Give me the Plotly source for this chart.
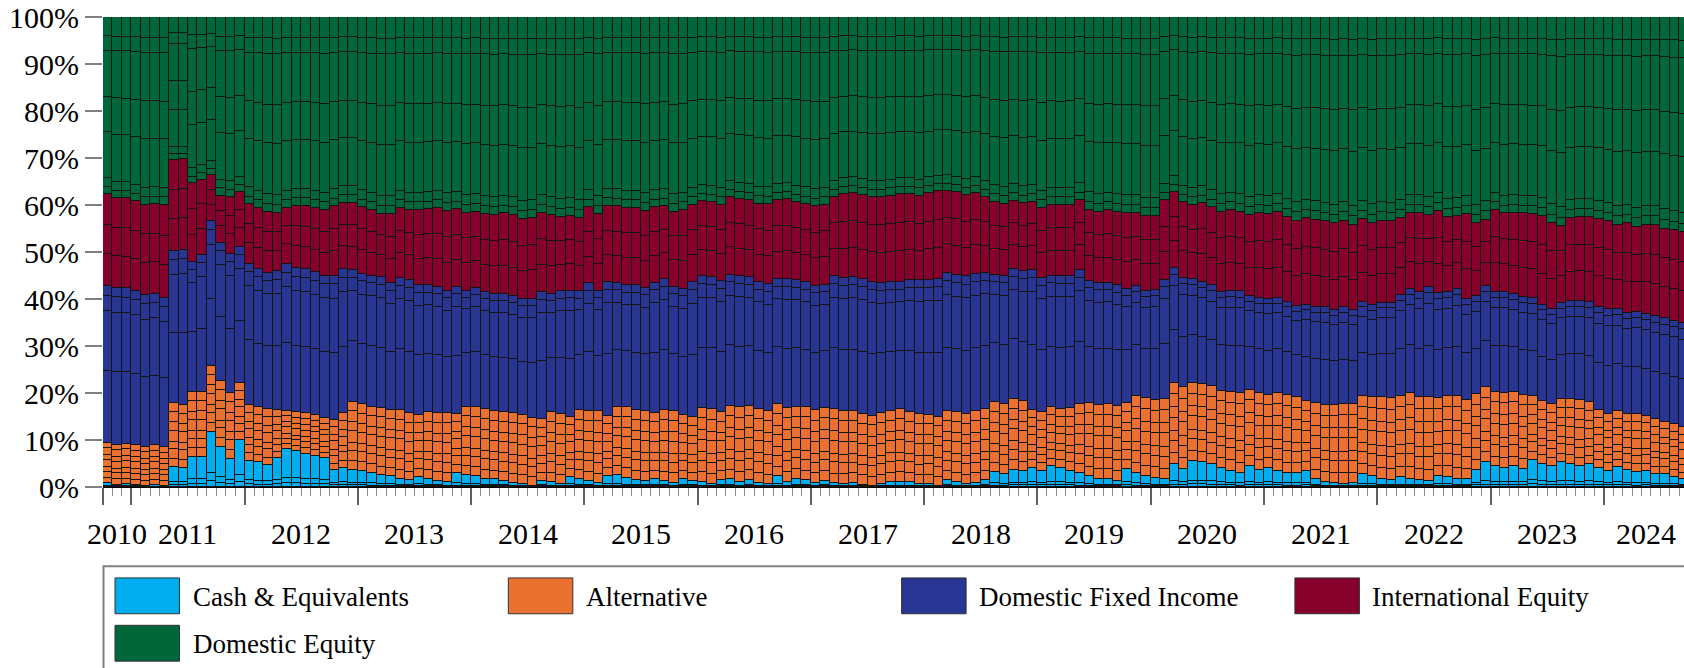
import plotly.graph_objects as go

# ---------------- data (percent of total, one value per month, Oct 2010 .. Sep 2024) ----------------
year_labels = ["2010", "2011", "2012", "2013", "2014", "2015", "2016", "2017",
               "2018", "2019", "2020", "2021", "2022", "2023", "2024"]
months_in_year = [3, 12, 12, 12, 12, 12, 12, 12, 12, 12, 12, 12, 12, 12, 9]

cash = [
    0.9, 0.5, 0.7, 0.5, 0.3, 0.4, 0.2, 4.2, 4.1, 6.4, 6.4, 11.8, 8.5, 6.0, 10.1, 5.6, 5.3, 4.7, 6.1, 8.0,
    7.6, 7.1, 6.7, 6.1, 3.6, 4.1, 3.7, 3.4, 3.0, 2.5,
    2.3, 1.8, 1.4, 2.2, 1.8, 1.3, 1.1, 3.0, 2.5, 2.3, 1.8, 1.6, 1.3, 0.9, 0.6, 0.2, 1.3, 1.1, 0.6, 2.2,
    1.6, 1.3, 0.8, 2.3, 2.5, 2.0, 1.5, 1.3, 1.6, 1.3, 0.9, 1.6, 1.3, 1.1, 0.6, 1.5,
    1.6, 1.1, 1.5, 0.9, 0.6, 2.3, 1.1, 1.8, 1.4, 0.9, 1.3, 0.8, 0.7, 0.9, 0.5, 0.2, 0.6, 1.1, 1.1, 1.1,
    0.6, 0.7, 0.2, 1.5, 1.1, 0.7, 0.9, 1.5, 3.2, 2.7, 3.7, 3.4, 4.1, 3.4, 4.4, 4.1,
    3.5, 3.0, 2.3, 1.8, 1.8, 1.3, 3.9, 3.0, 2.3, 2.0, 1.6, 5.0, 3.9, 5.5, 5.4, 4.8, 4.1, 3.5, 3.0, 4.4,
    3.7, 4.1, 3.5, 3.0, 3.0, 3.4, 1.6, 1.1, 0.9, 0.7, 0.9, 2.7, 2.3, 1.8, 1.5, 2.1,
    1.8, 1.5, 1.3, 2.3, 2.2, 1.8, 1.6, 3.7, 5.3, 4.4, 4.0, 4.4, 3.9, 5.7, 5.0, 4.4, 5.3, 5.0, 4.4, 4.8,
    4.1, 3.5, 4.2, 3.6, 3.2, 3.4, 2.8, 2.8, 2.2, 1.6,
]
alternative = [
    8.5, 8.5, 8.5, 8.4, 8.2, 8.5, 8.3, 13.7, 13.4, 13.8, 13.9, 14.0, 14.1, 14.0, 12.0, 11.9, 11.7, 11.9, 10.2, 8.2,
    8.3, 8.6, 8.6, 8.6, 10.7, 11.6, 14.4, 14.2, 14.1, 14.3,
    14.1, 14.6, 14.3, 13.2, 14.1, 14.4, 14.6, 12.5, 14.6, 14.7, 14.8, 14.5, 14.6, 14.8, 14.8, 14.5, 13.2, 14.8, 14.9, 12.8,
    14.8, 14.8, 15.3, 12.9, 14.5, 15.0, 14.9, 14.8, 14.1, 15.0, 15.3, 13.8, 13.7, 15.7, 16.0, 14.4,
    15.7, 15.9, 15.8, 15.7, 15.6, 15.3, 15.7, 15.3, 15.6, 15.4, 15.5, 15.8, 15.4, 15.2, 15.1, 15.0, 15.1, 15.1, 15.5, 14.8,
    14.9, 14.7, 14.8, 14.7, 14.8, 14.8, 15.2, 15.1, 14.9, 15.0, 15.0, 14.8, 12.3, 12.5, 12.6, 12.5,
    13.3, 14.6, 15.6, 15.7, 15.8, 16.0, 14.0, 16.4, 16.6, 16.6, 17.2, 17.1, 17.3, 16.7, 16.5, 16.6, 16.4, 16.8, 17.0, 16.3,
    16.3, 15.5, 16.5, 16.6, 16.1, 14.9, 16.3, 16.4, 16.6, 16.9, 16.7, 16.7, 16.8, 17.3, 17.4, 17.3,
    18.3, 17.6, 17.8, 16.6, 17.2, 17.6, 17.0, 16.1, 15.9, 15.9, 16.1, 15.9, 15.7, 13.6, 13.3, 13.3, 13.5, 13.8, 14.2, 13.3,
    12.2, 12.0, 11.9, 12.0, 12.4, 11.8, 11.7, 11.0, 11.1, 11.1,
]
domestic_fixed_income = [
    33.3, 33.4, 33.1, 32.9, 32.3, 32.2, 31.8, 32.4, 33.0, 27.6, 29.1, 30.7, 29.3, 29.6, 28.9, 30.0, 29.4, 29.0, 29.6, 31.3,
    30.7, 30.7, 30.4, 30.3, 30.7, 30.7, 28.0, 27.8, 27.9, 27.9,
    26.9, 28.1, 28.4, 27.5, 27.1, 26.9, 26.0, 27.1, 24.7, 25.4, 24.8, 25.0, 25.2, 24.9, 24.5, 25.4, 26.9, 25.2, 26.1, 26.8,
    25.2, 27.3, 25.6, 28.4, 26.4, 25.9, 26.5, 26.3, 27.8, 28.0, 26.4, 26.8, 28.6, 28.0, 28.1, 27.9,
    27.9, 27.9, 27.4, 27.0, 26.9, 26.6, 27.4, 26.9, 26.6, 26.5, 26.2, 28.2, 28.4, 28.6, 28.7, 28.4, 27.7, 27.4, 27.0, 28.2,
    28.5, 28.7, 29.3, 29.3, 29.3, 29.3, 29.3, 29.0, 27.1, 27.3, 27.7, 27.7, 29.8, 28.6, 28.0, 28.3,
    28.1, 28.6, 25.9, 25.9, 25.8, 25.6, 24.3, 23.4, 22.9, 23.4, 25.3, 24.5, 23.3, 22.0, 21.7, 21.5, 20.9, 21.3, 21.6, 19.9,
    20.2, 20.5, 20.2, 19.8, 19.4, 20.5, 20.4, 20.7, 20.1, 20.6, 20.0, 20.0, 19.6, 20.1, 20.3, 21.5,
    22.1, 22.3, 23.5, 22.4, 22.1, 22.8, 21.5, 20.8, 21.5, 21.2, 21.4, 20.7, 20.8, 20.9, 20.5, 20.1, 20.4, 20.8, 21.0, 21.3,
    22.0, 22.3, 21.7, 21.4, 21.7, 21.7, 21.8, 22.1, 22.1, 22.2,
]
international_equity = [
    19.6, 19.1, 19.1, 19.0, 19.3, 19.1, 19.7, 19.3, 19.2, 16.8, 16.0, 9.9, 10.1, 12.0, 11.7, 12.7, 13.0, 13.0, 12.5, 11.9,
    13.2, 13.4, 13.7, 13.9, 14.7, 14.1, 14.4, 14.1, 13.9, 13.4,
    14.8, 14.9, 14.8, 16.0, 16.1, 16.8, 17.1, 16.5, 16.6, 16.2, 16.7, 16.8, 17.1, 17.3, 17.1, 17.1, 16.9, 16.8, 15.9, 15.9,
    15.6, 16.1, 16.4, 16.2, 16.3, 16.5, 16.5, 16.4, 16.0, 15.4, 16.0, 16.7, 16.5, 16.0, 15.9, 16.3,
    16.5, 16.4, 16.3, 16.7, 17.1, 16.8, 17.0, 16.6, 16.6, 16.9, 17.0, 16.9, 17.8, 17.8, 17.8, 18.1, 18.3, 18.4, 18.7, 18.2,
    18.0, 18.4, 18.6, 17.5, 17.5, 17.3, 17.1, 16.0, 15.5, 15.3, 14.5, 14.5, 14.5, 14.9, 15.1, 15.1,
    15.2, 14.9, 15.2, 15.2, 15.5, 15.7, 16.1, 15.5, 15.9, 15.7, 16.9, 16.2, 16.1, 15.8, 16.8, 16.6, 17.2, 17.3, 17.0, 17.3,
    18.1, 18.0, 18.4, 18.1, 18.2, 18.4, 18.6, 18.3, 18.5, 18.5, 18.2, 17.6, 17.5, 17.5, 17.3, 16.3,
    16.2, 17.0, 15.3, 17.5, 15.9, 15.4, 18.0, 15.5, 14.2, 17.4, 16.7, 17.4, 17.8, 17.9, 18.9, 18.4, 16.3, 17.6, 17.9, 18.1,
    18.7, 18.7, 18.0, 19.1, 18.1, 18.9, 19.5, 19.1, 19.2, 19.3,
]
domestic_equity = [
    37.7, 38.5, 38.6, 39.2, 39.9, 39.8, 40.0, 30.4, 30.3, 35.4, 34.6, 33.6, 38.0, 38.4, 37.3, 39.8, 40.6, 41.4, 41.6, 40.6,
    40.2, 40.2, 40.6, 41.1, 40.3, 39.5, 39.5, 40.5, 41.1, 41.9,
    41.9, 40.6, 41.1, 41.1, 40.9, 40.6, 41.2, 40.9, 41.6, 41.4, 41.9, 42.1, 41.8, 42.1, 43.0, 42.8, 41.7, 42.1, 42.5, 42.3,
    42.8, 40.5, 41.9, 40.2, 40.3, 40.6, 40.6, 41.2, 40.5, 40.3, 41.4, 41.1, 39.9, 39.2, 39.4, 39.9,
    38.3, 38.7, 39.0, 39.7, 39.8, 39.0, 38.8, 39.4, 39.8, 40.3, 40.0, 38.3, 37.7, 37.5, 37.9, 38.3, 38.3, 38.0, 37.7, 37.7,
    38.0, 37.5, 37.1, 37.0, 37.3, 37.9, 37.5, 38.4, 39.3, 39.7, 39.1, 39.6, 39.3, 40.6, 39.9, 40.0,
    39.9, 38.9, 41.0, 41.4, 41.1, 41.4, 41.7, 41.7, 42.3, 42.3, 39.0, 37.2, 39.4, 40.0, 39.6, 40.5, 41.4, 41.1, 41.4, 42.1,
    41.7, 41.9, 41.4, 42.5, 43.3, 42.8, 43.1, 43.5, 43.9, 43.3, 44.2, 43.0, 43.8, 43.3, 43.5, 42.8,
    41.6, 41.6, 42.1, 41.2, 42.6, 42.4, 41.9, 43.9, 43.1, 41.1, 41.8, 41.6, 41.8, 41.9, 42.3, 43.8, 44.5, 42.8, 42.5, 42.5,
    43.0, 43.5, 44.2, 43.9, 44.6, 44.2, 44.2, 45.0, 45.4, 45.8,
]

# each asset class is made of several holdings (stacked inside the class); approximate shares
cash_holdings = [0.10, 0.15, 0.75]
alternative_holdings = [0.13, 0.15, 0.12, 0.17, 0.13, 0.16, 0.14]
dfi_holdings = [0.46, 0.38, 0.10, 0.06]
intl_holdings = [0.35, 0.32, 0.33]
deq_holdings = [0.04, 0.05, 0.26, 0.20, 0.26, 0.08, 0.11]

category_names = ["Cash & Equivalents", "Alternative", "Domestic Fixed Income",
                  "International Equity", "Domestic Equity"]
category_colors = ["#00AEEF", "#EA7130", "#283593", "#85002A", "#00673A"]

# ---------------- figure ----------------
W, H = 1684, 668
ML, MR, MT, MB = 103, 0, 15, 181
PW, PH = W - ML - MR, H - MT - MB

def px_x(p):
    return (p - ML) / PW

def px_y(p):
    return (H - MB - p) / PH

series = [cash, alternative, domestic_fixed_income, international_equity, domestic_equity]
holdings = [cash_holdings, alternative_holdings, dfi_holdings, intl_holdings, deq_holdings]
n = len(cash)
xs = list(range(n))

fig = go.Figure()
for name, color, vals, shares in zip(category_names, category_colors, series, holdings):
    for s in shares:
        fig.add_trace(go.Bar(
            x=xs, y=[v * s for v in vals], name=name, showlegend=False,
            marker=dict(color=color, line=dict(color="#141414", width=1)),
            width=1.0,
        ))

# year boundaries and centers (in bar index units)
bounds = [-0.5]
for m in months_in_year:
    bounds.append(bounds[-1] + m)
centers = [(bounds[i] + bounds[i + 1]) / 2 for i in range(len(months_in_year))]
major_ticks = bounds[:-1]

font_family = "Liberation Serif"
annotations = []
for lab, c in zip(year_labels, centers):
    annotations.append(dict(x=c, xref="x", y=px_y(534), yref="paper", text=lab,
                            showarrow=False, xanchor="center", yanchor="middle",
                            font=dict(family=font_family, size=30, color="black")))

shapes = []
# legend frame
shapes.append(dict(type="rect", xref="paper", yref="paper",
                   x0=px_x(103.5), x1=px_x(1720), y0=px_y(720), y1=px_y(566.7),
                   line=dict(color="#808080", width=2), fillcolor="rgba(0,0,0,0)", layer="above"))
col_w = 393.3
row_h = 47.6
for i, (name, color) in enumerate(zip(category_names, category_colors)):
    r, c = divmod(i, 4)
    x0 = 115 + c * col_w
    y0 = 578.3 + r * row_h
    shapes.append(dict(type="rect", xref="paper", yref="paper",
                       x0=px_x(x0), x1=px_x(x0 + 64.5), y0=px_y(y0 + 36), y1=px_y(y0),
                       line=dict(color="#333333", width=1), fillcolor=color, layer="above"))
    annotations.append(dict(x=px_x(x0 + 75.5), xref="paper", y=px_y(y0 + 19), yref="paper",
                            text=name, showarrow=False, xanchor="left", yanchor="middle",
                            font=dict(family=font_family, size=27, color="black")))

fig.update_layout(
    width=W, height=H,
    margin=dict(l=ML, r=MR, t=MT, b=MB, pad=0),
    barmode="stack", bargap=0,
    paper_bgcolor="white", plot_bgcolor="white",
    font=dict(family=font_family, size=30, color="black"),
    showlegend=False,
    xaxis=dict(range=[-0.5, 167.0], showgrid=False, zeroline=False,
               showline=True, linecolor="black", linewidth=1,
               tickmode="array", tickvals=major_ticks, ticktext=[""] * len(major_ticks),
               ticks="outside", ticklen=17, tickwidth=1.5, tickcolor="#606060",
               minor=dict(tickmode="linear", tick0=-0.5, dtick=1, ticks="outside",
                          ticklen=8, tickwidth=1, tickcolor="#8a8a8a")),
    yaxis=dict(range=[0, 100], showgrid=False, zeroline=False, showline=False,
               tickmode="array", tickvals=list(range(0, 101, 10)),
               ticktext=[f"{v}%" for v in range(0, 101, 10)],
               ticks="outside", ticklen=17, tickwidth=2, tickcolor="#808080",
               ticklabeloverflow="allow",
               tickfont=dict(family=font_family, size=30, color="black")),
    annotations=annotations,
    shapes=shapes,
)

fig.write_html("out.html", config={"displayModeBar": False},
               post_script="document.body.style.margin='0';document.body.style.overflow='hidden';")
